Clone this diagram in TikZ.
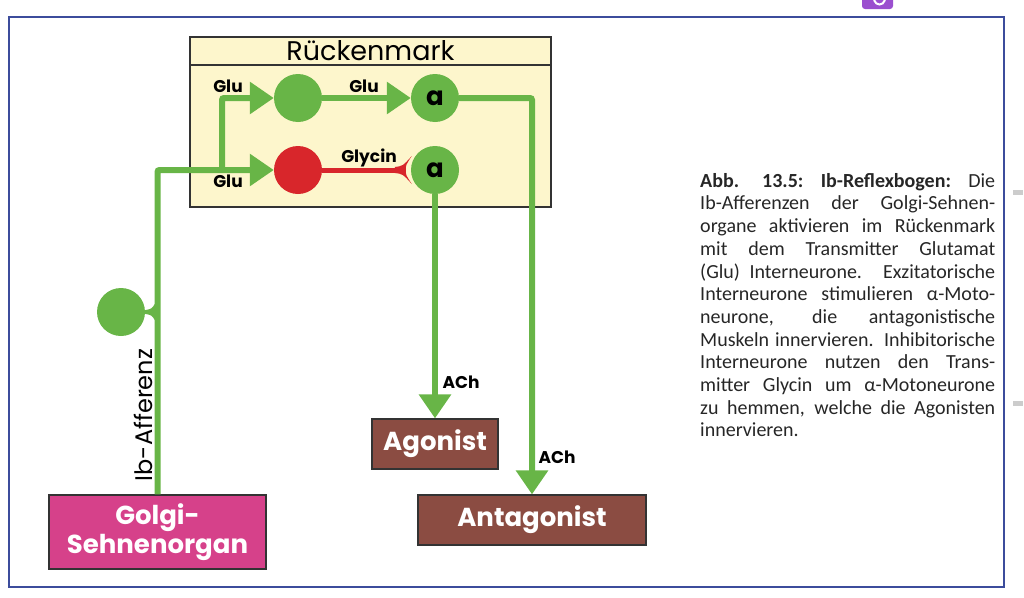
\documentclass[tikz,border=0pt]{standalone}
\usepackage{fontspec}
\setmainfont{Carlito}
\newfontfamily\gothic{Poppins}
\usepackage{xcolor}
\usepackage{tikz}
\usetikzlibrary{arrows.meta,positioning,calc}
\definecolor{nervegreen}{HTML}{68B547}
\definecolor{glycred}{HTML}{D8262B}
\definecolor{cordfill}{HTML}{FDF6CC}
\definecolor{musclebrown}{HTML}{8B4C42}
\definecolor{organpink}{HTML}{D6418A}
\definecolor{frameblue}{HTML}{3C4C9C}
\definecolor{tabpurple}{HTML}{9B4FCF}

\begin{document}
\begin{tikzpicture}[x=1pt, y=-1pt,
    neuron/.style={circle, fill=nervegreen, minimum size=48pt, inner sep=0pt,
                   font=\gothic\bfseries\fontsize{26}{26}\selectfont},
    box/.style={rectangle, draw=black!80, line width=1.2pt, text=white,
                font=\gothic\bfseries\fontsize{26}{29}\selectfont, align=center},
    axon/.style={draw=nervegreen, line width=6pt},
    exc/.style={axon, -{Triangle[length=24pt,width=31pt]}},
    lbl/.style={font=\gothic\bfseries\fontsize{17}{17}\selectfont, inner sep=0pt},
]
\useasboundingbox (0,0) rectangle (1024,597);
\draw[frameblue, line width=2pt] (9,17) rectangle (1004,587);
\fill[black!20] (1013,190) rectangle (1023,195);
\fill[black!20] (1013,401) rectangle (1023,406);
\fill[tabpurple, rounded corners=3pt] (862,-6) rectangle (893,9);
\draw[white, line width=2pt] (874,0) .. controls (876,6) and (883,6) .. (885,0);

\node[draw=black!80, line width=1.2pt, fill=cordfill,
      minimum width=361pt, minimum height=170pt] (cord) at (370.5,122) {};
\node[draw=black!80, line width=1.2pt, minimum width=361pt, minimum height=28pt,
      inner sep=0pt, below=0pt of cord.north,
      font=\gothic\fontsize{27}{27}\selectfont] (cordtitle) {Rückenmark};

\node[neuron] (exi) at (298,98) {};
\node[neuron] (mtop) at (435,98) {a};
\node[neuron, fill=glycred] (inh) at (298,170) {};
\node[neuron] (mbot) at (435,170) {a};
\node[neuron] (gang) at (121,312) {};

\node[box, fill=organpink, minimum width=217pt, minimum height=74pt] (golgi)
      at (157.5,532) {Golgi-\\Sehnenorgan};
\node[box, fill=musclebrown, minimum width=126pt, minimum height=50pt] (ago)
      at (435,444) {Agonist};
\node[box, fill=musclebrown, minimum width=228pt, minimum height=50pt] (antago)
      at (532,520) {Antagonist};

\coordinate (split) at (222,170);
\coordinate (stem) at (gang.east -| golgi.north);
\draw[axon, line width=4pt] (gang.east) -- (stem);
\fill[nervegreen] ($(stem)+(-12,-2)$) .. controls ($(stem)+(-6,-3)$) .. ($(stem)+(-2,-9)$)
  -- ($(stem)+(-2,9)$) .. controls ($(stem)+(-6,3)$) .. ($(stem)+(-12,2)$) -- cycle;
\draw[exc, rounded corners=2pt] (golgi.north) |- (inh.west);
\draw[exc, rounded corners=2pt] (split) |- (exi.west);
\draw[exc] (exi.east) -- (mtop.west);
\draw[exc, rounded corners=2pt] (mtop.east) -| (antago.north);
\draw[exc] (mbot.south) -- (ago.north);

% glycinerge Synapse
\draw[glycred, line width=5pt] (inh.east) -- ($(mbot.west)+(-10,0)$);
\fill[glycred] ($(mbot.west)+(-16,-3)$)
  .. controls ($(mbot.west)+(-8,-4)$) .. ($(mbot.west)+(1,-14)$)
  .. controls ($(mbot.west)+(-5,-5)$) .. ($(mbot.west)+(-5,0)$)
  .. controls ($(mbot.west)+(-5,5)$) .. ($(mbot.west)+(1,14)$)
  .. controls ($(mbot.west)+(-8,4)$) .. ($(mbot.west)+(-16,3)$) -- cycle;

\node[lbl] (glu1) at (228,86) {Glu};
\node[lbl] (glu2) at (228,181) {Glu};
\node[lbl] (glu3) at (364,86) {Glu};
\node[lbl] (gly) at (369,158) {Glycin};
\node[lbl] (ach1) at (461,382) {ACh};
\node[lbl] (ach2) at (557,457) {ACh};
\node[rotate=90, font=\gothic\fontsize{24}{24}\selectfont] (affl) at (143,415) {Ib-Afferenz};

\node[anchor=north west, inner sep=0pt, text width=295pt, align=justify,
      font=\fontsize{20}{22.7}\selectfont, text=black!85] (caption) at (700,173)
{\tolerance=10000
\textbf{Abb. 13.5: Ib-Reflexbogen:} Die\linebreak
Ib-Afferenzen der Golgi-Sehnen-\linebreak
organe aktivieren im Rückenmark\linebreak
mit dem Transmitter Glutamat\linebreak
(Glu) Interneurone. Exzitatorische\linebreak
Interneurone stimulieren α-Moto-\linebreak
neurone, die antagonistische\linebreak
Muskeln innervieren. Inhibitorische\linebreak
Interneurone nutzen den Trans-\linebreak
mitter Glycin um α-Motoneurone\linebreak
zu hemmen, welche die Agonisten\linebreak
innervieren.};
\end{tikzpicture}
\end{document}
